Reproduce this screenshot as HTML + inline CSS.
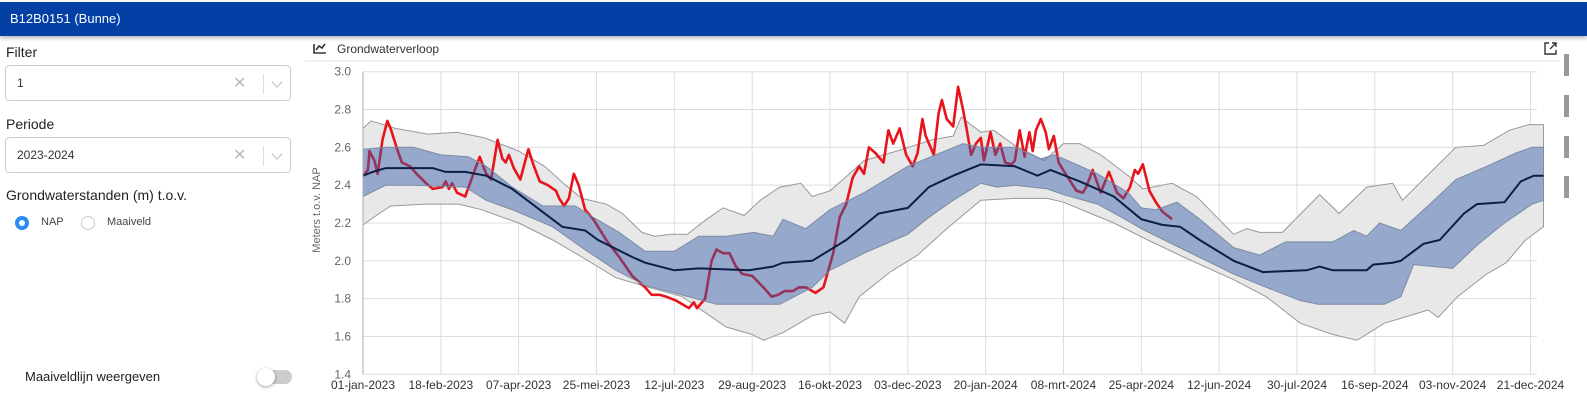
<!DOCTYPE html>
<html style="overflow:hidden;width:1587px;height:408px"><head><meta charset="utf-8">
<style>
html,body{margin:0;padding:0;overflow:hidden}
body{width:1587px;height:408px;background:#fff;font-family:"Liberation Sans",sans-serif;position:relative}
#wrap{position:absolute;left:0;top:0;width:1587px;height:408px;overflow:hidden}
.hdr{position:absolute;left:0;top:2px;width:1587px;height:34px;background:#0340a6;color:#fff;font-size:13px;line-height:34px;box-shadow:0 2px 4px rgba(0,0,0,.3)}
.hdr span{margin-left:10px}
.lbl{position:absolute;left:6px;font-size:14px;color:#222}
.sel{position:absolute;left:5px;width:286px;height:36px;border:1px solid #ccc;border-radius:4px;box-sizing:border-box;font-size:12px;color:#333}
.sel .v{position:absolute;left:11px;top:10px}
.sel .x{position:absolute;left:227px;top:7px;color:#bbb;font-size:16px}
.sel .sep{position:absolute;left:257px;top:8px;width:1px;height:20px;background:#ddd}
.sel .dn{position:absolute;left:267px;top:12px;width:7px;height:7px;border-right:1.5px solid #bbb;border-bottom:1.5px solid #bbb;transform:rotate(45deg)}
.rb{position:absolute;width:14px;height:14px;border-radius:50%;box-sizing:border-box}
.side{position:absolute;left:1564px;width:5px;height:22px;background:#999}
</style></head><body>
<div id="wrap">
<div class="hdr"><span>B12B0151 (Bunne)</span></div>
<div class="lbl" style="top:44px">Filter</div>
<div class="sel" style="top:65px"><span class="v">1</span><span class="x">✕</span><span class="sep"></span><span class="dn"></span></div>
<div class="lbl" style="top:116px">Periode</div>
<div class="sel" style="top:137px"><span class="v">2023-2024</span><span class="x">✕</span><span class="sep"></span><span class="dn"></span></div>
<div class="lbl" style="top:187px">Grondwaterstanden (m) t.o.v.</div>
<div class="rb" style="left:15px;top:216px;background:#2d8cf0;border:4px solid #2d8cf0"><div style="width:6px;height:6px;background:#fff;border-radius:50%"></div></div>
<div style="position:absolute;left:41px;top:216px;font-size:11px;color:#444">NAP</div>
<div class="rb" style="left:81px;top:216px;border:1px solid #ccc"></div>
<div style="position:absolute;left:107px;top:216px;font-size:11px;color:#444">Maaiveld</div>
<div style="position:absolute;left:25px;top:369px;font-size:13px;color:#222">Maaiveldlijn weergeven</div>
<div style="position:absolute;left:258px;top:370px;width:34px;height:14px;border-radius:7px;background:#ccc"><div style="position:absolute;left:-1px;top:-2px;width:18px;height:18px;border-radius:50%;background:#fff;box-shadow:0 1px 3px rgba(0,0,0,.4)"></div></div>
<div class="side" style="top:54px"></div>
<div class="side" style="top:95px"></div>
<div class="side" style="top:136px"></div>
<div class="side" style="top:176px"></div>

<svg id="chart" width="1587" height="408" viewBox="0 0 1587 408" style="position:absolute;left:0;top:0;overflow:hidden">
<g stroke="#333" stroke-width="1.6" fill="none"><path d="M314 44 L314 53 L326 53"/><path d="M316 50 L319 46 L322 48 L325 44"/></g>
<text x="337" y="53" font-size="12" fill="#333">Grondwaterverloop</text>
<g stroke="#333" stroke-width="1.4" fill="none"><path d="M1549 43 L1545 43 L1545 54 L1556 54 L1556 50"/><path d="M1550 49 L1556 43 M1552 43 L1556 43 L1556 47"/></g>
<line x1="305" y1="61" x2="1560" y2="61" stroke="#e5e5e5"/>
<g id="grid"></g><g id="outer"></g><g id="obs"></g><g id="inner"></g><g id="med"></g><g id="axes"></g>
</svg>
</div>
<script>
const yTicks=[1.4,1.6,1.8,2.0,2.2,2.4,2.6,2.8,3.0];
const xTickDays=[0,48,96,144,192,240,288,336,384,432,480,528,576,624,672,720];
const xTickLabels=["01-jan-2023","18-feb-2023","07-apr-2023","25-mei-2023","12-jul-2023","29-aug-2023","16-okt-2023","03-dec-2023","20-jan-2024","08-mrt-2024","25-apr-2024","12-jun-2024","30-jul-2024","16-sep-2024","03-nov-2024","21-dec-2024"];
const outerUpDays=[0,5,20,40,58,75,96,112,125,135,150,160,172,180,190,200,212,222,235,245,257,270,277,288,300,309,329,351,364,369,381,389,402,420,432,442,455,472,481,499,514,537,545,553,567,590,602,619,635,641,655,674,691,707,719,728];
const outerUp=[2.70,2.74,2.70,2.67,2.68,2.65,2.58,2.50,2.40,2.33,2.30,2.25,2.15,2.13,2.14,2.14,2.22,2.28,2.24,2.32,2.39,2.41,2.34,2.37,2.46,2.53,2.58,2.64,2.66,2.76,2.68,2.69,2.61,2.53,2.62,2.62,2.56,2.45,2.38,2.41,2.34,2.14,2.17,2.15,2.15,2.35,2.25,2.39,2.41,2.32,2.44,2.60,2.61,2.69,2.72,2.72];
const outerLoDays=[0,10,17,39,59,73,96,117,135,156,176,197,212,224,240,247,259,277,288,297,306,325,342,360,381,402,422,432,463,484,506,537,557,578,598,613,630,657,663,675,693,705,717,728];
const outerLo=[2.19,2.25,2.29,2.30,2.30,2.27,2.20,2.11,2.02,1.91,1.86,1.81,1.72,1.65,1.61,1.58,1.62,1.71,1.73,1.67,1.81,1.94,2.03,2.17,2.32,2.33,2.33,2.31,2.20,2.11,2.02,1.90,1.81,1.67,1.61,1.58,1.67,1.74,1.70,1.81,1.93,1.99,2.11,2.18];
const innerUpDays=[0,14,31,48,65,76,92,111,131,142,158,174,192,207,224,241,253,259,273,288,309,336,356,370,381,402,418,426,432,453,472,480,489,502,516,537,553,569,598,611,619,627,640,658,674,693,711,721,728];
const innerUp=[2.59,2.60,2.60,2.56,2.55,2.50,2.39,2.29,2.29,2.23,2.15,2.05,2.05,2.13,2.13,2.15,2.13,2.22,2.17,2.27,2.36,2.50,2.57,2.62,2.60,2.60,2.54,2.56,2.54,2.46,2.36,2.28,2.27,2.31,2.22,2.07,2.03,2.10,2.10,2.16,2.13,2.20,2.16,2.30,2.43,2.50,2.57,2.60,2.60];
const innerLoDays=[0,14,31,63,76,92,117,135,156,174,192,218,240,257,277,288,309,336,349,364,381,391,402,422,432,453,472,480,506,537,557,578,589,630,640,648,672,688,704,721,728];
const innerLo=[2.34,2.40,2.40,2.39,2.32,2.27,2.18,2.07,1.95,1.87,1.83,1.77,1.77,1.77,1.86,1.95,2.04,2.14,2.23,2.32,2.41,2.39,2.40,2.38,2.35,2.30,2.21,2.17,2.06,1.93,1.86,1.79,1.77,1.77,1.81,1.98,1.96,2.09,2.20,2.30,2.32];
const medDays=[0,6,14,31,43,51,63,76,92,109,123,137,145,166,174,192,207,238,253,259,277,298,318,336,349,364,381,402,416,424,442,463,480,493,504,516,537,555,582,590,598,619,623,635,640,654,664,679,687,704,714,722,728];
const med=[2.45,2.47,2.49,2.49,2.49,2.47,2.47,2.45,2.38,2.27,2.18,2.16,2.11,2.02,1.99,1.95,1.96,1.95,1.97,1.99,2.00,2.11,2.25,2.28,2.39,2.45,2.51,2.50,2.45,2.48,2.42,2.34,2.22,2.19,2.18,2.11,2.00,1.94,1.95,1.97,1.95,1.95,1.98,1.99,2.00,2.09,2.11,2.25,2.30,2.31,2.42,2.45,2.45];
const obsDays=[0,3,4,7,9,12,15,17,21,24,29,33,39,43,49,51,53,55,58,63,66,72,76,79,83,86,88,90,93,97,102,105,109,114,119,121,124,127,130,133,137,142,150,158,166,174,178,183,187,193,201,204,206,211,215,218,222,226,230,234,240,248,252,256,260,265,269,273,279,284,290,294,298,302,306,309,312,316,321,324,327,331,335,339,342,345,347,352,355,357,360,364,367,370,372,375,378,381,383,387,390,393,396,400,402,405,408,411,413,415,418,421,423,426,429,434,440,444,446,450,455,460,465,469,473,476,478,481,485,489,493,499];
const obs=[2.45,2.48,2.58,2.53,2.46,2.64,2.74,2.70,2.59,2.52,2.50,2.46,2.41,2.38,2.39,2.42,2.38,2.41,2.36,2.34,2.41,2.55,2.46,2.43,2.64,2.54,2.52,2.56,2.49,2.43,2.59,2.51,2.42,2.40,2.37,2.33,2.29,2.33,2.46,2.40,2.27,2.22,2.11,2.02,1.92,1.86,1.82,1.82,1.81,1.79,1.75,1.78,1.75,1.80,2.00,2.06,2.04,2.04,1.97,1.93,1.92,1.85,1.81,1.82,1.84,1.84,1.86,1.86,1.83,1.86,2.04,2.23,2.30,2.44,2.50,2.46,2.60,2.57,2.52,2.69,2.62,2.70,2.56,2.50,2.57,2.75,2.66,2.56,2.78,2.85,2.75,2.71,2.92,2.80,2.71,2.56,2.62,2.65,2.53,2.68,2.56,2.62,2.52,2.51,2.53,2.69,2.55,2.68,2.58,2.69,2.75,2.68,2.59,2.66,2.52,2.45,2.37,2.36,2.39,2.48,2.36,2.47,2.36,2.33,2.39,2.48,2.46,2.51,2.37,2.31,2.26,2.22];

const X0=363,PX=1.6215,Ytop=71.7,PU=189.1,XR=1537;
const sx=d=>X0+d*PX, sy=v=>Ytop+(3.0-v)*PU;
const NS='http://www.w3.org/2000/svg';
function mk(parent,tag,attrs){const e=document.createElementNS(NS,tag);for(const k in attrs)e.setAttribute(k,attrs[k]);document.getElementById(parent).appendChild(e);return e;}
function pts(days,vals){return days.map((d,i)=>sx(d).toFixed(1)+','+sy(vals[i]).toFixed(1));}
function band(upD,up,loD,lo){return 'M'+pts(upD,up).join(' L')+' L'+pts(loD,lo).reverse().join(' L')+' Z';}

yTicks.forEach(v=>{
  const l=mk('grid','line',{x1:X0,x2:XR,y1:sy(v),y2:sy(v),stroke:'#ddd'});
  
  
  const t=mk('axes','text',{x:351,y:sy(v)+4,'text-anchor':'end','font-size':12,fill:'#666'});
  t.textContent=v.toFixed(1);
  
  
});
xTickDays.forEach((d,i)=>{
  const l=mk('grid','line',{x1:sx(d),x2:sx(d),y1:Ytop,y2:sy(1.4),stroke:'#ddd'});
  
  
  const t=mk('axes','text',{x:sx(d),y:389,'text-anchor':'middle','font-size':12,fill:'#333'});
  t.textContent=xTickLabels[i];
  
  
});
const ax=mk('axes','line',{x1:X0,x2:X0,y1:Ytop,y2:sy(1.4),stroke:'#aaa'});


const yt=mk('axes','text',{x:0,y:0,transform:'translate(320,210) rotate(-90)','text-anchor':'middle','font-size':11,fill:'#666'});
yt.textContent='Meters t.o.v. NAP';



const ob=mk('outer','path',{d:band(outerUpDays,outerUp,outerLoDays,outerLo),fill:'#e8e8e8',stroke:'#999','stroke-width':1});


const ol=mk('obs','polyline',{points:pts(obsDays,obs).join(' '),fill:'none',stroke:'#e8141c','stroke-width':2.6,'stroke-linejoin':'round'});


const ib=mk('inner','path',{d:band(innerUpDays,innerUp,innerLoDays,innerLo),fill:'rgba(50,90,170,0.45)',stroke:'#7d8ba3','stroke-width':1});


const ml=mk('med','polyline',{points:pts(medDays,med).join(' '),fill:'none',stroke:'#0b1f45','stroke-width':2});


</script>
</body></html>
